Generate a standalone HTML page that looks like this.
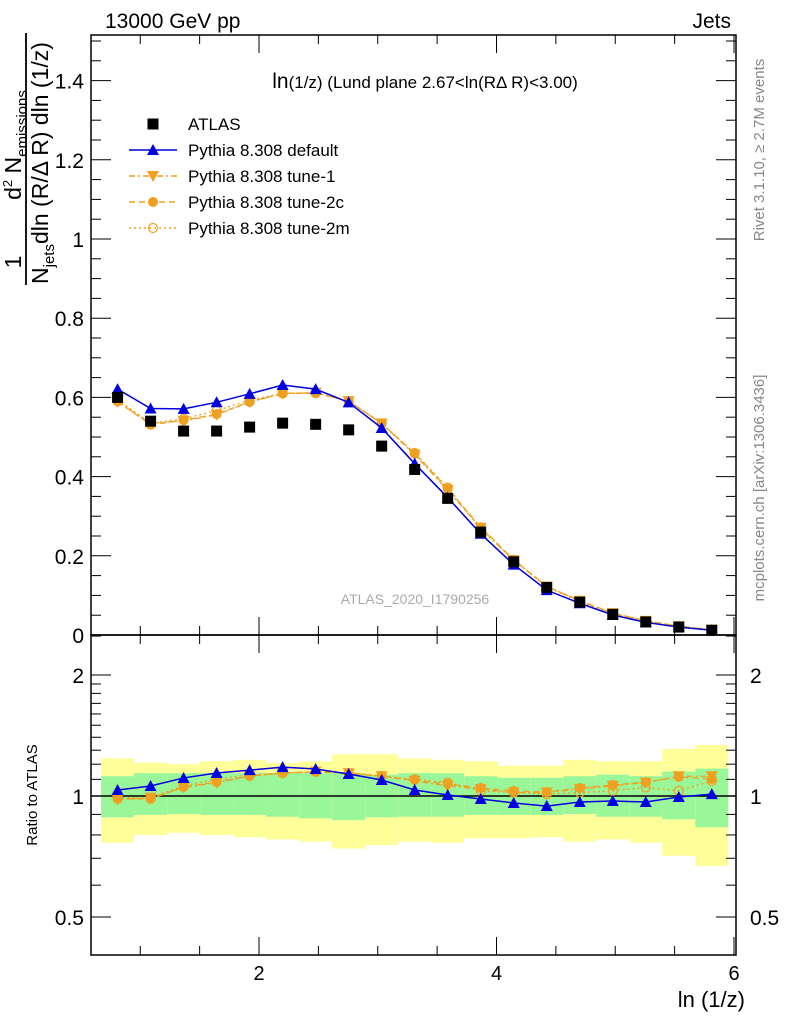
<!DOCTYPE html>
<html><head><meta charset="utf-8"><style>
html,body{margin:0;padding:0;background:#fff;}
svg{display:block;font-family:"Liberation Sans",Arial,sans-serif;}
</style></head><body>
<svg id="chart" width="786" height="1024" viewBox="0 0 786 1024" xmlns="http://www.w3.org/2000/svg">
<g id="bands"></g>
<g id="marks"></g>
<g id="axes"></g>
<text x="105" y="28" font-size="21">13000 GeV pp</text>
<text x="731" y="28" font-size="21" text-anchor="end">Jets</text>
<text x="425" y="88" font-size="17" text-anchor="middle"><tspan font-size="21">ln</tspan>(1/z) (Lund plane 2.67&lt;ln(RΔ R)&lt;3.00)</text>
<text x="415" y="604" font-size="14" fill="#aaa" text-anchor="middle">ATLAS_2020_I1790256</text>
<text transform="translate(764,150) rotate(-90)" font-size="15" fill="#888" text-anchor="middle">Rivet 3.1.10, ≥ 2.7M events</text>
<text transform="translate(764,488) rotate(-90)" font-size="15" fill="#888" text-anchor="middle">mcplots.cern.ch [arXiv:1306.3436]</text>
<text x="745" y="1007" font-size="22" text-anchor="end">ln (1/z)</text>
<text transform="translate(37,795) rotate(-90)" font-size="15" text-anchor="middle">Ratio to ATLAS</text>
<g font-size="23">
  <text transform="translate(21,262) rotate(-90)" text-anchor="middle">1</text>
  <text transform="translate(21,145) rotate(-90)" text-anchor="middle">d<tspan font-size="13" dy="-9">2</tspan><tspan dy="9"> N</tspan><tspan font-size="15" dy="6">emissions</tspan></text>
  <line x1="26" y1="33" x2="26" y2="285" stroke="#000" stroke-width="1.8"/>
  <text transform="translate(48,284) rotate(-90)">N<tspan font-size="15" dy="6">jets</tspan><tspan dy="-6">dln (R/Δ R) dln (1/z)</tspan></text>
</g>
<g id="legend"></g>
</svg>
<script>
const binLow = 0.67, binW = 0.278;
const atlas = [0.60,0.54,0.515,0.515,0.525,0.535,0.532,0.518,0.477,0.418,0.345,0.26,0.185,0.12,0.083,0.052,0.033,0.02,0.012];
const ratioDefault = [1.035,1.059,1.109,1.141,1.16,1.18,1.167,1.134,1.096,1.035,1.006,0.983,0.961,0.944,0.966,0.972,0.966,0.994,1.011];
const ratioTune1 = [0.98,0.99,1.05,1.08,1.12,1.14,1.15,1.14,1.12,1.09,1.06,1.04,1.02,1.02,1.04,1.06,1.08,1.12,1.12];
const ratioTune2c = [0.983,0.983,1.053,1.083,1.121,1.141,1.147,1.141,1.121,1.096,1.071,1.047,1.029,1.023,1.047,1.065,1.083,1.115,1.102];
const ratioTune2m = [0.99,0.99,1.06,1.10,1.13,1.14,1.15,1.14,1.12,1.10,1.08,1.03,1.02,1.01,1.02,1.03,1.05,1.03,1.09];
const yellowUp = [1.24,1.21,1.20,1.22,1.23,1.21,1.22,1.27,1.27,1.24,1.23,1.22,1.19,1.19,1.23,1.22,1.22,1.31,1.34];
const yellowDn = [0.765,0.80,0.81,0.80,0.79,0.78,0.77,0.74,0.755,0.77,0.765,0.785,0.785,0.79,0.77,0.78,0.765,0.71,0.67];
const greenUp = [1.12,1.14,1.14,1.14,1.14,1.14,1.14,1.14,1.13,1.14,1.14,1.12,1.11,1.11,1.12,1.13,1.12,1.15,1.17];
const greenDn = [0.885,0.897,0.902,0.897,0.897,0.888,0.88,0.871,0.885,0.888,0.888,0.897,0.897,0.897,0.902,0.888,0.888,0.875,0.836];
const xTickLabels = ["2","4","6"];
const mainTickLabels = ["0","0.2","0.4","0.6","0.8","1","1.2","1.4"];
const ratioTickLabels = ["0.5","1","2"];

const L=91,R=736,T=35,MB=635,RB=955;
const X=v=>21.5+v*118.75;
const Y=v=>635-v*396;
const YR=r=>796-121*Math.log2(r);
const NS="http://www.w3.org/2000/svg";
function mk(tag,parent,attrs){const e=document.createElementNS(NS,tag);for(const k in attrs)e.setAttribute(k,attrs[k]);parent.appendChild(e);return e;}
const bands=document.getElementById('bands'),marks=document.getElementById('marks'),axes=document.getElementById('axes'),legend=document.getElementById('legend');

atlas.forEach((v,i)=>{
  const x0=X(binLow+i*binW),x1=X(binLow+(i+1)*binW);
  let r=mk('rect',bands,{x:x0,y:YR(yellowUp[i]),width:x1-x0,height:YR(yellowDn[i])-YR(yellowUp[i]),fill:'#ffff99'});
  
  
  let g=mk('rect',bands,{x:x0,y:YR(greenUp[i]),width:x1-x0,height:YR(greenDn[i])-YR(greenUp[i]),fill:'#99f799'});
  
  
});
let one=mk('line',bands,{x1:L,x2:R,y1:YR(1),y2:YR(1),stroke:'#000','stroke-width':1.5});



const cx=i=>X(binLow+(i+0.5)*binW);
const ORG='#f0a020';
function marker(type,parent,x,y,col){
  let e;
  if(type==='up') e=mk('polygon',parent,{points:`${x},${y-6} ${x-6},${y+5} ${x+6},${y+5}`,fill:col});
  else if(type==='down') e=mk('polygon',parent,{points:`${x},${y+6} ${x-6},${y-5} ${x+6},${y-5}`,fill:col});
  else if(type==='dot') e=mk('circle',parent,{cx:x,cy:y,r:5,fill:col});
  else if(type==='open') e=mk('circle',parent,{cx:x,cy:y,r:4.5,fill:'none',stroke:col,'stroke-width':1.2});
  else e=mk('rect',parent,{x:x-5.5,y:y-5.5,width:11,height:11,fill:col});
  return e;
}
const series=[
  {name:'tune-2m',r:ratioTune2m,col:ORG,dash:'2,3',m:'open'},
  {name:'tune-2c',r:ratioTune2c,col:ORG,dash:'6,4',m:'dot'},
  {name:'tune-1',r:ratioTune1,col:ORG,dash:'6,3,2,3',m:'down'},
  {name:'default',r:ratioDefault,col:'#0000e0',dash:'',m:'up'}
];
series.forEach(s=>{
  const mainPts=atlas.map((a,i)=>[cx(i),Y(a*s.r[i])]);
  const ratPts=s.r.map((r,i)=>[cx(i),YR(r)]);
  [mainPts,ratPts].forEach((pts,k)=>{
    let p=mk('polyline',marks,{points:pts.map(p=>p.join(',')).join(' '),fill:'none',stroke:s.col,'stroke-width':s.dash?1.3:1.5,'stroke-dasharray':s.dash});
    
    
    pts.forEach(pt=>{
      let m=marker(s.m,marks,pt[0],pt[1],s.col);
      
      
    });
  });
});
atlas.forEach((a,i)=>{
  let m=marker('sq',marks,cx(i),Y(a),'#000');
  
  
});

[[T,MB],[MB,RB]].forEach((f,k)=>{
  let r=mk('rect',axes,{x:L,y:f[0],width:R-L,height:f[1]-f[0],fill:'none',stroke:'#000','stroke-width':1.5});
  
  
});
for(let v=1;v<=6;v+=0.5){
  const x=X(v); if(x<L||x>R) continue;
  const big=(v%2===0); const len=big?18:9;
  [[T,1],[MB,-1],[MB,1],[RB,-1]].forEach(([y,d])=>{
    let t=mk('line',axes,{x1:x,x2:x,y1:y,y2:y+d*len,stroke:'#000','stroke-width':1});
    
    
  });
}
xTickLabels.forEach(s=>{
  let t=mk('text',axes,{x:X(+s),y:980,'font-size':20,'text-anchor':'middle'});t.textContent=s;
  
  
});
for(let k=0;k<=30;k++){
  const v=k*0.05,y=Y(v); if(y<T) break;
  const len=(k%4===0)?20:10;
  [[L,1],[R,-1]].forEach(([x,d])=>{
    let t=mk('line',axes,{x1:x,x2:x+d*len,y1:y,y2:y,stroke:'#000','stroke-width':1});
    
    
  });
}
mainTickLabels.forEach(s=>{
  let t=mk('text',axes,{x:84,y:Y(+s)+8,'font-size':21,'text-anchor':'end'});t.textContent=s;
  
  
});
const rt=[0.4,0.5,0.6,0.7,0.8,0.9,1,1.1,1.2,1.3,1.4,1.5,1.6,1.7,1.8,1.9,2,2.5];
rt.forEach(r=>{
  const y=YR(r); if(y<MB||y>RB) return;
  const big=(r===0.5||r===1||r===2); const len=big?20:10;
  [[L,1],[R,-1]].forEach(([x,d])=>{
    let t=mk('line',axes,{x1:x,x2:x+d*len,y1:y,y2:y,stroke:'#000','stroke-width':1});
    
    
  });
});
ratioTickLabels.forEach(s=>{
  [[84,'end'],[750,'start']].forEach(([x,a])=>{
    let t=mk('text',axes,{x:x,y:YR(+s)+8,'font-size':21,'text-anchor':a});t.textContent=s;
    
    
  });
});
const leg=[['ATLAS','#000','','sq'],['Pythia 8.308 default','#0000e0','','up'],['Pythia 8.308 tune-1',ORG,'6,3,2,3','down'],['Pythia 8.308 tune-2c',ORG,'6,4','dot'],['Pythia 8.308 tune-2m',ORG,'2,3','open']];
leg.forEach((e,i)=>{
  const y=124+i*26;
  const g=mk('g',legend,{});
  
  
  if(i>0) mk('line',g,{x1:129,x2:177,y1:y,y2:y,stroke:e[1],'stroke-width':1.4,'stroke-dasharray':e[2]});
  marker(e[3],g,153,y,e[1]);
  const t=mk('text',g,{x:188,y:y+6,'font-size':17});t.textContent=e[0];
});
</script>
</body></html>
